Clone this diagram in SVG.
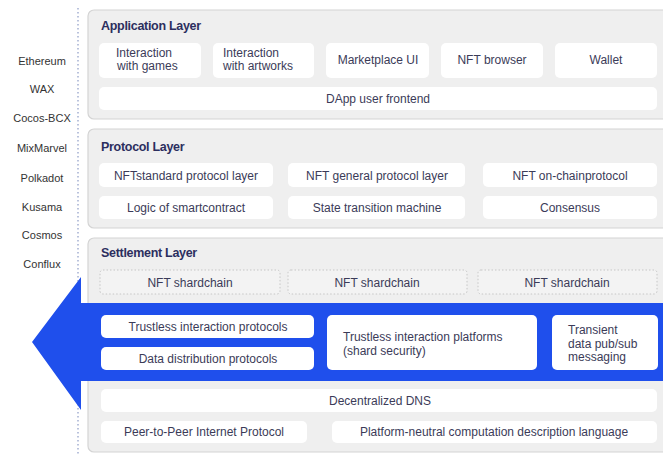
<svg xmlns="http://www.w3.org/2000/svg" width="663" height="455" viewBox="0 0 663 455">
<style>
text{font-family:"Liberation Sans",Arial,sans-serif;font-size:12px;fill:#3b3b58}
.side{font-size:11px;fill:#333;text-anchor:middle}
.title{font-size:12.5px;font-weight:bold;fill:#2c2e5e;letter-spacing:-0.3px}
.panel{fill:#efefef;stroke:#d4d4d4;stroke-width:1.2}
.box{fill:#fff}
.dot{fill:#f3f3f3;stroke:#c6c6c6;stroke-width:1;stroke-dasharray:1.5 2}
.c{text-anchor:middle}
</style>
<rect width="663" height="455" fill="#fff"/>
<line x1="78" y1="8" x2="78" y2="455" stroke="#8d9bc6" stroke-width="1.2" stroke-dasharray="1.5 2.5"/>
<g id="chains">
<text class="side" x="42" y="65">Ethereum</text>
<text class="side" x="42" y="93">WAX</text>
<text class="side" x="42" y="122">Cocos-BCX</text>
<text class="side" x="42" y="152">MixMarvel</text>
<text class="side" x="42" y="182">Polkadot</text>
<text class="side" x="42" y="211">Kusama</text>
<text class="side" x="42" y="239">Cosmos</text>
<text class="side" x="42" y="268">Conflux</text>
</g>
<g id="application-layer">
<rect class="panel" x="88" y="10" width="582" height="109" rx="6"/>
<text class="title" x="101" y="30">Application Layer</text>
<g id="app-games"><rect class="box" x="99" y="43" width="102" height="35" rx="5"/><text x="116" y="57">Interaction<tspan x="117" dy="13">with games</tspan></text></g>
<g id="app-artworks"><rect class="box" x="213" y="43" width="101" height="35" rx="5"/><text x="223" y="57">Interaction<tspan x="223" dy="13">with artworks</tspan></text></g>
<g id="app-marketplace"><rect class="box" x="326" y="43" width="103" height="35" rx="5"/><text class="c" x="378" y="64">Marketplace UI</text></g>
<g id="app-browser"><rect class="box" x="441" y="43" width="102" height="35" rx="5"/><text class="c" x="492" y="64">NFT browser</text></g>
<g id="app-wallet"><rect class="box" x="555" y="43" width="102" height="35" rx="5"/><text class="c" x="606" y="64">Wallet</text></g>
<g id="app-dapp"><rect class="box" x="99" y="87" width="558" height="23" rx="5"/><text class="c" x="378" y="103">DApp user frontend</text></g>
</g>
<g id="protocol-layer">
<rect class="panel" x="88" y="129" width="582" height="99" rx="6"/>
<text class="title" x="101" y="151">Protocol Layer</text>
<g id="p-standard"><rect class="box" x="99" y="163" width="174" height="24" rx="5"/><text class="c" x="186" y="180">NFTstandard protocol layer</text></g>
<g id="p-general"><rect class="box" x="288" y="163" width="177" height="24" rx="5"/><text class="c" x="377" y="180">NFT general protocol layer</text></g>
<g id="p-onchain"><rect class="box" x="483" y="163" width="174" height="24" rx="5"/><text class="c" x="570" y="180">NFT on-chainprotocol</text></g>
<g id="p-logic"><rect class="box" x="99" y="196" width="174" height="23" rx="5"/><text class="c" x="186" y="212">Logic of smartcontract</text></g>
<g id="p-state"><rect class="box" x="288" y="196" width="177" height="23" rx="5"/><text class="c" x="377" y="212">State transition machine</text></g>
<g id="p-consensus"><rect class="box" x="483" y="196" width="174" height="23" rx="5"/><text class="c" x="570" y="212">Consensus</text></g>
</g>
<g id="settlement-layer">
<rect class="panel" x="88" y="238" width="582" height="214" rx="6"/>
<text class="title" x="101" y="257">Settlement Layer</text>
<g id="s-shard1"><rect class="dot" x="100" y="270" width="180" height="24" rx="3"/><text class="c" x="190" y="287">NFT shardchain</text></g>
<g id="s-shard2"><rect class="dot" x="288" y="270" width="179" height="24" rx="3"/><text class="c" x="377" y="287">NFT shardchain</text></g>
<g id="s-shard3"><rect class="dot" x="478" y="270" width="179" height="24" rx="3"/><text class="c" x="567" y="287">NFT shardchain</text></g>
</g>
<g id="connectors">
<polygon id="arrow" points="32,342 81,277 81,303 663,303 663,381 81,381 81,410" fill="#1f4fec"/>
</g>
<g id="s-trustless-protocols"><rect class="box" x="101" y="315" width="213" height="23" rx="5"/><text class="c" x="208" y="331">Trustless interaction protocols</text></g>
<g id="s-data-distribution"><rect class="box" x="101" y="347" width="213" height="23" rx="5"/><text class="c" x="208" y="363">Data distribution protocols</text></g>
<g id="s-platforms"><rect class="box" x="327" y="315" width="210" height="55" rx="5"/><text x="343" y="341">Trustless interaction platforms<tspan x="343" dy="14">(shard security)</tspan></text></g>
<g id="s-transient"><rect class="box" x="552" y="315" width="106" height="55" rx="5"/><text x="568" y="334">Transient<tspan x="568" dy="13.5">data pub/sub</tspan><tspan x="568" dy="13.5">messaging</tspan></text></g>
<g id="s-dns"><rect class="box" x="101" y="389" width="556" height="23" rx="5"/><text class="c" x="380" y="405">Decentralized DNS</text></g>
<g id="s-p2p"><rect class="box" x="101" y="421" width="206" height="22" rx="5"/><text class="c" x="204" y="436">Peer-to-Peer Internet Protocol</text></g>
<g id="s-platform-neutral"><rect class="box" x="332" y="421" width="325" height="22" rx="5"/><text class="c" x="494" y="436">Platform-neutral computation description language</text></g>
</svg>
